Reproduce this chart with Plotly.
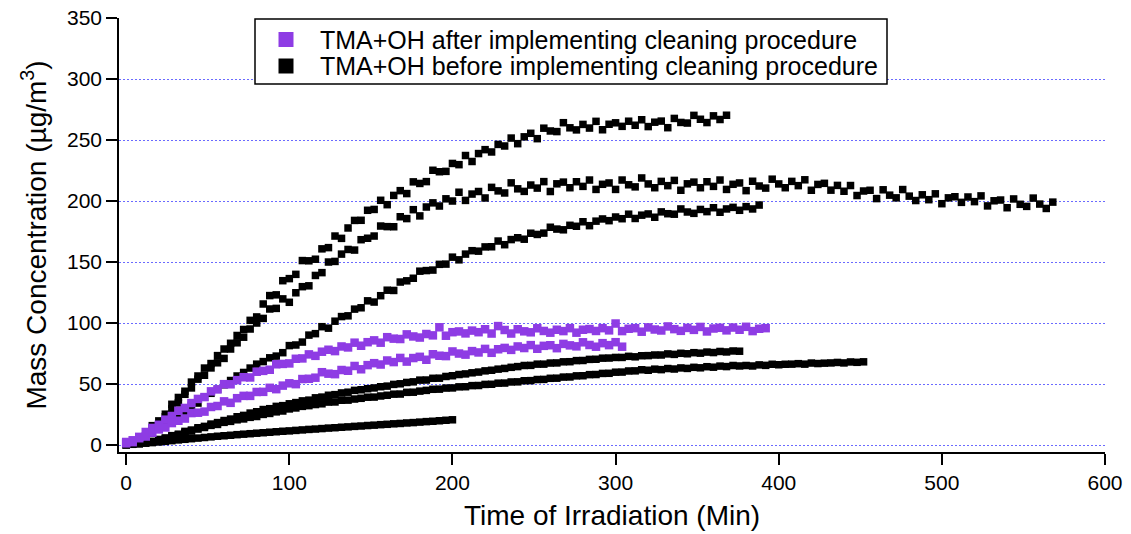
import plotly.graph_objects as go

# Sampling times (min) shared by all runs; each run uses the leading part of it
TIME_MIN = [
    0, 4, 8, 12, 16, 20, 24, 28, 32, 36,
    40, 44, 48, 52, 56, 60, 64, 68, 72, 76,
    80, 84, 88, 92, 96, 100, 104, 108, 112, 116,
    120, 124, 128, 132, 136, 140, 144, 148, 152, 156,
    160, 164, 168, 172, 176, 180, 184, 188, 192, 196,
    200, 204, 208, 212, 216, 220, 224, 228, 232, 236,
    240, 244, 248, 252, 256, 260, 264, 268, 272, 276,
    280, 284, 288, 292, 296, 300, 304, 308, 312, 316,
    320, 324, 328, 332, 336, 340, 344, 348, 352, 356,
    360, 364, 368, 372, 376, 380, 384, 388, 392, 396,
    400, 404, 408, 412, 416, 420, 424, 428, 432, 436,
    440, 444, 448, 452, 456, 460, 464, 468, 472, 476,
    480, 484, 488, 492, 496, 500, 504, 508, 512, 516,
    520, 524, 528, 532, 536, 540, 544, 548, 552, 556,
    560, 564, 568,
]

# ---- Runs before the cleaning procedure (ug/m3) ----
before_run1 = [
    0.2, 3.2, 6.5, 8.7, 15.9, 19.8, 25.3, 33.4, 39, 44.1,
    51.6, 56.6, 63.1, 66.8, 73.3, 78.7, 83.4, 89.8, 94.7, 102.2,
    105, 115.6, 122.5, 123.1, 134.7, 136.4, 139.9, 151.2, 151, 152.3,
    160.8, 161.8, 171.3, 169.4, 177.9, 184.1, 184.2, 192.4, 193.1, 200.6,
    197, 204.6, 208.5, 206.1, 215.7, 214.4, 215.9, 225.2, 224, 224.3,
    230.8, 229.8, 237.3, 232.4, 238.9, 242.1, 240.2, 246.4, 245.1, 251.6,
    247, 252.6, 255.5, 251.1, 259.7, 257.4, 256.9, 264.2, 260, 258.3,
    262.8, 259.8, 265.3, 258.4, 262.9, 264.1, 261.2, 265.4, 262.1, 266.6,
    261, 264.6, 265.5, 260.1, 267.7, 264.4, 263.9, 270.2, 267, 264.3,
    269.8, 266.8, 270.3,
]

before_run2 = [
    1, 2.3, 5.5, 8.7, 13.9, 17.0, 23.2, 29.6, 34.5, 41.6,
    46.8, 54.0, 57.2, 63.2, 67.4, 71.0, 78.7, 83.8, 88.4, 95.1,
    100, 103.8, 111.5, 112, 119.8, 117, 124.8, 129.8, 130.5, 139,
    141.3, 150, 150.5, 156.5, 160.3, 159.8, 168.3, 169.5, 171.3, 179.5,
    179, 178.9, 187.1, 185.6, 192.9, 187.8, 195.1, 198.5, 195.9, 201.8,
    200, 207.2, 200.5, 205.7, 207.8, 202.5, 211.2, 208.3, 206.6, 214.9,
    210, 207.9, 213.1, 210.6, 215.9, 207.8, 214.1, 215.5, 210.9, 215.8,
    212, 217.2, 209.5, 213.7, 214.8, 209.5, 217.2, 213.3, 211.6, 218.9,
    214, 210.9, 216.1, 212.6, 216.9, 208.8, 214.1, 215.5, 210.9, 215.8,
    212, 217.2, 209.5, 213.7, 214.8, 208.5, 216.2, 212.3, 210.6, 217.9,
    214, 210.9, 216.1, 212.6, 217.4, 208.8, 213.6, 214.5, 208.9, 212.8,
    208, 212.7, 204.5, 208.2, 208.8, 202, 209.2, 204.8, 202.6, 209.4,
    204, 200.4, 205.1, 201.1, 205.9, 197.8, 202.6, 203.5, 198.9, 203.3,
    199.5, 204.2, 196, 200.2, 200.8, 194.5, 201.7, 197.3, 195.6, 202.4,
    197.5, 193.9, 199.1,
]

before_run3 = [
    0.8, 1.4, 4.5, 6.9, 9.7, 13.7, 17, 19.6, 24.3, 27.8,
    32.6, 34.4, 39.2, 42.4, 45.7, 49.4, 52.9, 56.6, 59.5, 63.1,
    66.3, 68.4, 71.5, 72.9, 75.7, 81.5, 82, 84.4, 90.1, 91.3,
    97, 95.8, 101.5, 105.3, 105.9, 111.4, 112.5, 118.2, 117.2, 122.4,
    126.9, 126.7, 133.6, 134.6, 136.7, 142.5, 143, 143.4, 148.1, 148.3,
    154, 151.8, 156.5, 159.3, 158.9, 162.4, 162.5, 167.2, 164.2, 168.4,
    169.9, 168.7, 173.6, 172.6, 173.7, 178.5, 177, 176.4, 180.1, 179.3,
    183, 179.8, 183.5, 185.3, 183.9, 186.9, 185.5, 189.2, 185.7, 188.4,
    189.4, 186.7, 191.1, 189.6, 189.2, 193.5, 191, 189.9, 193.1, 191.3,
    194.5, 190.8, 193.5, 194.8, 192.4, 195.4, 193.5, 196.7,
]

before_run4 = [
    0.4, 1.1, 1.4, 2.4, 2.9, 4.6, 5.8, 7.7, 8.9, 11.2,
    12.3, 14.2, 15.3, 17.2, 18.4, 20.1, 21.3, 23.2, 24.3, 26.2,
    27.3, 29.1, 29.8, 31.7, 32.3, 33.8, 34.8, 36.2, 36.8, 38.7,
    39.3, 40.8, 41.3, 42.7, 43.3, 44.8, 45.3, 46.2, 46.8, 47.8,
    48.3, 49.7, 50.2, 51.3, 51.8, 53.2, 53.3, 54.7, 54.8, 56.2,
    56.8, 57.8, 58.3, 59.2, 59.8, 60.8, 61.3, 62.2, 62.8, 63.7,
    64.3, 65.2, 65.3, 66.3, 66.3, 67.2, 67.3, 68.2, 68.3, 69.2,
    69.3, 70.2, 70.3, 71.2, 71.3, 71.8, 71.8, 72.7, 72.3, 73.2,
    73.3, 73.8, 73.8, 74.7, 74.3, 75.2, 74.8, 75.7, 75.3, 76.2,
    75.8, 76.7, 76.3, 77.1, 76.9,
]

before_run5 = [
    0.3, 0.9, 1.2, 2.1, 2.9, 4.1, 5.4, 7.1, 8.4, 10.1,
    11.4, 13.1, 14.4, 16.1, 16.9, 18.6, 19.4, 20.7, 21.4, 22.7,
    23.4, 25.1, 25.9, 27.2, 27.9, 29.6, 30.4, 31.7, 32.3, 33.2,
    33.8, 35.2, 35.3, 36.7, 36.8, 37.7, 38.3, 39.2, 39.3, 40.2,
    40.8, 41.7, 41.8, 43.2, 43.3, 44.2, 44.8, 45.7, 45.8, 46.7,
    46.8, 47.7, 47.8, 48.7, 48.8, 49.7, 49.8, 50.7, 50.8, 51.7,
    51.8, 52.7, 52.8, 53.7, 53.8, 54.7, 54.8, 55.7, 55.8, 56.7,
    56.8, 57.7, 57.8, 58.7, 58.8, 59.7, 59.8, 60.7, 60.8, 61.7,
    61.3, 62.2, 61.8, 62.7, 62.3, 63.2, 62.8, 63.7, 63.3, 64.2,
    63.8, 64.7, 64.3, 65.2, 64.8, 65.2, 64.8, 65.7, 65.3, 66.2,
    65.8, 66.2, 66.3, 66.7, 66.3, 67.2, 66.8, 67.1, 67.3, 67.7,
    67.3, 68.1, 67.8, 68.2,
]

before_run6 = [
    0.3, 0.6, 1.0, 1.5, 2.0, 2.5, 3.0, 3.6, 4.2, 4.7,
    5.2, 5.7, 6.2, 6.7, 7.2, 7.6, 8.0, 8.5, 8.9, 9.3,
    9.7, 10.1, 10.5, 10.9, 11.3, 11.6, 12.0, 12.4, 12.8, 13.1,
    13.5, 13.9, 14.2, 14.6, 14.9, 15.3, 15.6, 16.0, 16.3, 16.7,
    17.0, 17.4, 17.7, 18.1, 18.4, 18.8, 19.2, 19.5, 19.9, 20.3,
    20.7,
]

# ---- Runs after the cleaning procedure (ug/m3) ----
after_run1 = [
    2.5, 3.9, 6.7, 10.7, 14, 16.6, 20.8, 23.8, 28.1, 30.4,
    34.4, 37.8, 39.3, 44.0, 45.6, 49.9, 49.8, 53.2, 55.6, 55.4,
    60.1, 60.8, 61.7, 66.2, 66.5, 66.9, 70.7, 71.0, 74.3, 73.1,
    76.5, 78.1, 77.0, 80.8, 80.0, 83.9, 81.4, 84.3, 85.8, 83.9,
    88.4, 87.2, 86.9, 90.7, 89.0, 88.1, 91.0, 89.9, 96.5, 89.6,
    92.5, 93.1, 91.5, 93.8, 92.5, 94.9, 91.4, 97.5, 94.3, 91.4,
    94.9, 93.2, 92.4, 95.7, 93.5, 92.1, 94.5, 93.4, 95.8, 92.1,
    94.5, 95.1, 93.5, 95.8, 94.0, 99.6, 93.4, 95.3, 95.8, 92.9,
    96.4, 94.7, 93.9, 97.2, 95.0, 93.6, 96.0, 94.4, 96.8, 93.1,
    95.5, 96.1, 94.0, 96.3, 94.5, 96.9, 93.4, 95.3, 95.8,
]

after_run2 = [
    1.4, 2.4, 5.6, 7.0, 10.1, 12.8, 14.4, 18.0, 19.9, 21.7,
    26.2, 26.5, 27.4, 31.2, 32.0, 35.8, 34.6, 38.4, 40.3, 40.3,
    43.5, 43.6, 46.9, 45.8, 48.7, 50.6, 49.9, 54.1, 54.3, 55.2,
    59.7, 58.5, 58.1, 61.5, 60.9, 64.8, 62.1, 65.5, 67.1, 66.0,
    69.3, 68.0, 71.4, 68.4, 71.3, 72.3, 69.9, 74.4, 73.2, 72.9,
    76.7, 75.0, 74.1, 77.0, 75.9, 78.8, 75.6, 78.5, 79.6, 78.0,
    80.8, 79.5, 81.9, 78.9, 81.3, 81.8, 79.4, 82.9, 81.7, 80.9,
    84.2, 82.0, 80.6, 83.5, 81.9, 84.3, 80.6,
]

BLACK = "#000000"
PURPLE = "#8E3CE4"
LABEL_AFTER = "TMA+OH after implementing cleaning procedure"
LABEL_BEFORE = "TMA+OH before implementing cleaning procedure"

before_runs = [before_run1, before_run2, before_run3, before_run4, before_run5, before_run6]
after_runs = [after_run1, after_run2]

fig = go.Figure()

for run in before_runs:
    fig.add_trace(go.Scatter(
        x=TIME_MIN[:len(run)], y=run, mode="markers", name=LABEL_BEFORE,
        marker=dict(symbol="square", size=7.5, color=BLACK, line=dict(width=0)),
        showlegend=False, hoverinfo="skip",
    ))

for run in after_runs:
    fig.add_trace(go.Scatter(
        x=TIME_MIN[:len(run)], y=run, mode="markers", name=LABEL_AFTER,
        marker=dict(symbol="square", size=8.5, color=PURPLE, line=dict(width=0)),
        showlegend=False, hoverinfo="skip",
    ))

FONT = "Liberation Sans, Arial, sans-serif"

# ---- boxed key, placed in paper coordinates (plot area spans 119..1105 x 18..452 px) ----
def px_x(px):
    return (px - 119) / 986.0


def px_y(py):
    return (452 - py) / 434.0


key_rows = [(LABEL_AFTER, PURPLE, 39.5), (LABEL_BEFORE, BLACK, 66.0)]
shapes = [dict(
    type="rect", xref="paper", yref="paper", layer="above",
    x0=px_x(255), x1=px_x(887), y0=px_y(84), y1=px_y(19),
    line=dict(color="black", width=1.5), fillcolor="white",
)]
annotations = []
for label, color, cy in key_rows:
    shapes.append(dict(
        type="rect", xref="paper", yref="paper", layer="above",
        x0=px_x(278.5), x1=px_x(293.5), y0=px_y(cy + 7.5), y1=px_y(cy - 7.5),
        line=dict(width=0), fillcolor=color,
    ))
    annotations.append(dict(
        text=label, xref="paper", yref="paper", x=px_x(318), y=px_y(cy),
        xanchor="left", yanchor="middle", showarrow=False,
        font=dict(family=FONT, size=25, color="black"),
    ))

fig.update_layout(
    width=1131, height=534,
    margin=dict(l=119, r=26, t=18, b=82, autoexpand=False),
    plot_bgcolor="white", paper_bgcolor="white",
    font=dict(family=FONT, size=21, color="black"),
    showlegend=False,
    shapes=shapes,
    annotations=annotations,
)

fig.update_xaxes(
    range=[-4.4, 600], tickvals=[0, 100, 200, 300, 400, 500, 600],
    ticks="outside", ticklen=11, tickwidth=1.5, tickcolor="black",
    showline=True, linecolor="black", linewidth=1.5,
    showgrid=False, zeroline=False, automargin=False,
    title=dict(text="Time of Irradiation (Min)", font=dict(size=28), standoff=12),
)

fig.update_yaxes(
    range=[-5.7, 350], tickvals=[0, 50, 100, 150, 200, 250, 300, 350],
    ticks="outside", ticklen=11, tickwidth=1.5, tickcolor="black",
    showline=True, linecolor="black", linewidth=1.5,
    showgrid=True, gridcolor="#6a6aff", gridwidth=1, griddash="2px,2px",
    zeroline=False, automargin=False,
    title=dict(text="Mass Concentration (µg/m<sup>3</sup>)", font=dict(size=28), standoff=12),
)

fig.write_html("out.html")
